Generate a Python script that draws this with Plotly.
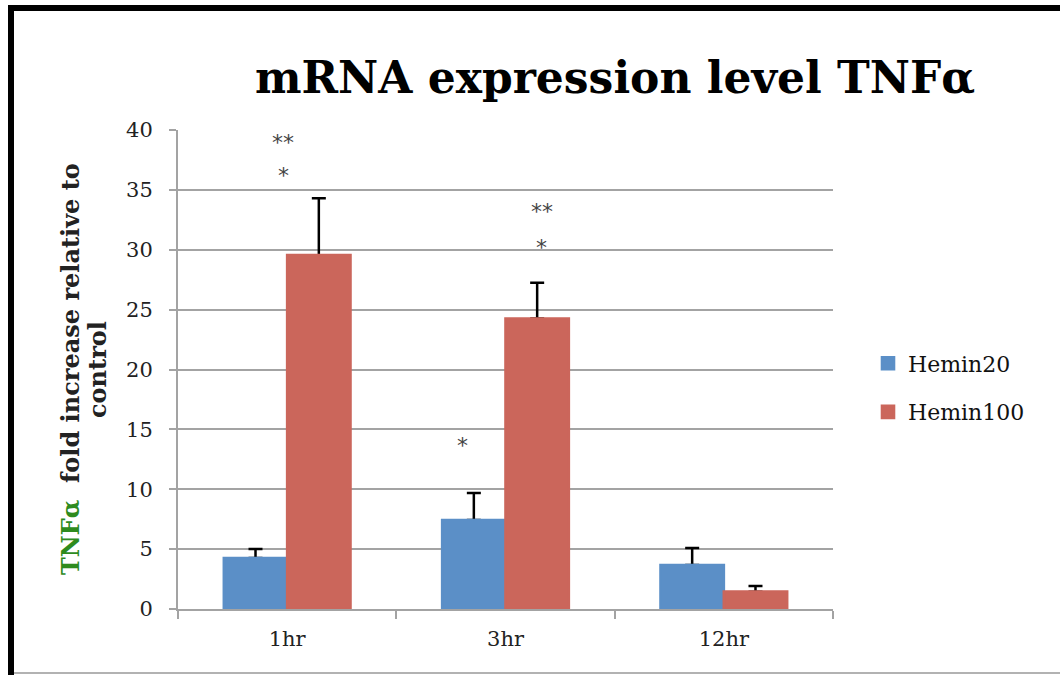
import plotly.graph_objects as go

# ---- data ----
categories = ["1hr", "3hr", "12hr"]
hemin20 = [4.26, 7.43, 3.67]
hemin20_err = [0.75, 2.25, 1.42]
hemin100 = [29.55, 24.26, 1.45]
hemin100_err = [4.75, 2.98, 0.47]
y_ticks = [0, 5, 10, 15, 20, 25, 30, 35, 40]

# significance marks: (category, y value, text, x pixel shift)
sig_marks = [
    ("1hr", 39.4, "**", -4),
    ("1hr", 36.6, "*", -4),
    ("3hr", 33.6, "**", 36),
    ("3hr", 30.6, "*", 36),
    ("3hr", 14.1, "*", -43),
]

W, H = 1060, 675
L, R, T, B = 178, 833, 130, 609  # plot area in pixels

BLUE = "#5B8FC7"
RED = "#CB665B"
GRID = "#A3A3A3"
SERIF = "DejaVu Serif"

fig = go.Figure()

# error-bar carriers (transparent), drawn first so the visible bars hide the lower cap
for vals, errs, grp in [(hemin20, hemin20_err, "a"), (hemin100, hemin100_err, "b")]:
    fig.add_trace(go.Bar(
        x=categories, y=vals, offsetgroup=grp, showlegend=False, hoverinfo="skip",
        marker=dict(color="rgba(0,0,0,0)", line=dict(width=0)),
        error_y=dict(type="data", array=errs, arrayminus=[0] * len(errs), symmetric=False,
                     color="black", thickness=2.5, width=7),
    ))

fig.add_trace(go.Bar(
    x=categories, y=hemin20, name="Hemin20", offsetgroup="a", legendgroup="a",
    marker=dict(color=BLUE, line=dict(color=BLUE, width=2.6)),
))
fig.add_trace(go.Bar(
    x=categories, y=hemin100, name="Hemin100", offsetgroup="b", legendgroup="b",
    marker=dict(color=RED, line=dict(color=RED, width=2.6)),
))


def px_x(p):
    return (p - L) / (R - L)


def px_y(p):
    return (B - p) / (B - T)


annotations = []
for cat, yv, txt, dx in sig_marks:
    annotations.append(dict(
        x=cat, y=yv, xref="x", yref="y", text=txt, showarrow=False, xshift=dx, yshift=-5,
        font=dict(family="DejaVu Sans", size=22, color="#444444"),
        xanchor="center", yanchor="middle",
    ))

# y-axis title (rotated, two lines)
annotations.append(dict(
    x=px_x(70), y=px_y(369), xref="paper", yref="paper", textangle=-90,
    text="<span style='color:#2E8B1E'>TNFα</span>  fold increase relative to",
    showarrow=False, xanchor="center", yanchor="middle",
    font=dict(family=SERIF, size=24, color="#222222", weight="bold"),
))
annotations.append(dict(
    x=px_x(97), y=px_y(370), xref="paper", yref="paper", textangle=-90,
    text="control",
    showarrow=False, xanchor="center", yanchor="middle",
    font=dict(family=SERIF, size=24, color="#222222", weight="bold"),
))

shapes = [
    # outer frame: thick black top and left, thin grey bottom
    dict(type="line", xref="paper", yref="paper", x0=px_x(8), x1=px_x(1075),
         y0=px_y(8), y1=px_y(8), line=dict(color="black", width=6)),
    dict(type="line", xref="paper", yref="paper", x0=px_x(11), x1=px_x(11),
         y0=px_y(5), y1=px_y(690), line=dict(color="black", width=6)),
    dict(type="line", xref="paper", yref="paper", x0=px_x(14), x1=px_x(1075),
         y0=px_y(673), y1=px_y(673), line=dict(color="#999999", width=1.5)),
]

fig.update_layout(
    width=W, height=H,
    margin=dict(l=L, r=W - R, t=T, b=H - B, autoexpand=False),
    paper_bgcolor="white", plot_bgcolor="white",
    barmode="group", bargap=0.42, bargroupgap=0,
    title=dict(text="<b>mRNA expression level TNFα</b>", x=615 / W, xref="container",
               xanchor="center", y=1 - 78 / H, yanchor="middle",
               font=dict(family=SERIF, size=44, color="black")),
    xaxis=dict(
        type="category", tickson="boundaries", ticks="outside", ticklen=8, tickwidth=2,
        tickcolor=GRID, showline=True, linecolor=GRID, linewidth=2, showgrid=False,
        ticklabelstandoff=10,
        tickfont=dict(family=SERIF, size=21, color="#222222"),
    ),
    yaxis=dict(
        range=[0, 40], tickvals=y_ticks, ticks="outside", ticklen=7, tickwidth=2,
        tickcolor=GRID, showline=True, linecolor=GRID, linewidth=2,
        showgrid=True, gridcolor=GRID, gridwidth=2, zeroline=False,
        ticklabelstandoff=12,
        tickfont=dict(family=SERIF, size=21, color="#222222"),
    ),
    legend=dict(
        x=px_x(868), y=px_y(388), xref="paper", yref="paper", xanchor="left", yanchor="middle",
        font=dict(family=SERIF, size=22, color="#111111"),
        tracegroupgap=17, itemwidth=30, bgcolor="rgba(0,0,0,0)",
    ),
    showlegend=True,
    annotations=annotations,
    shapes=shapes,
)

fig.write_html("out.html", config={"displayModeBar": False},
               post_script="document.body.style.margin='0';")
